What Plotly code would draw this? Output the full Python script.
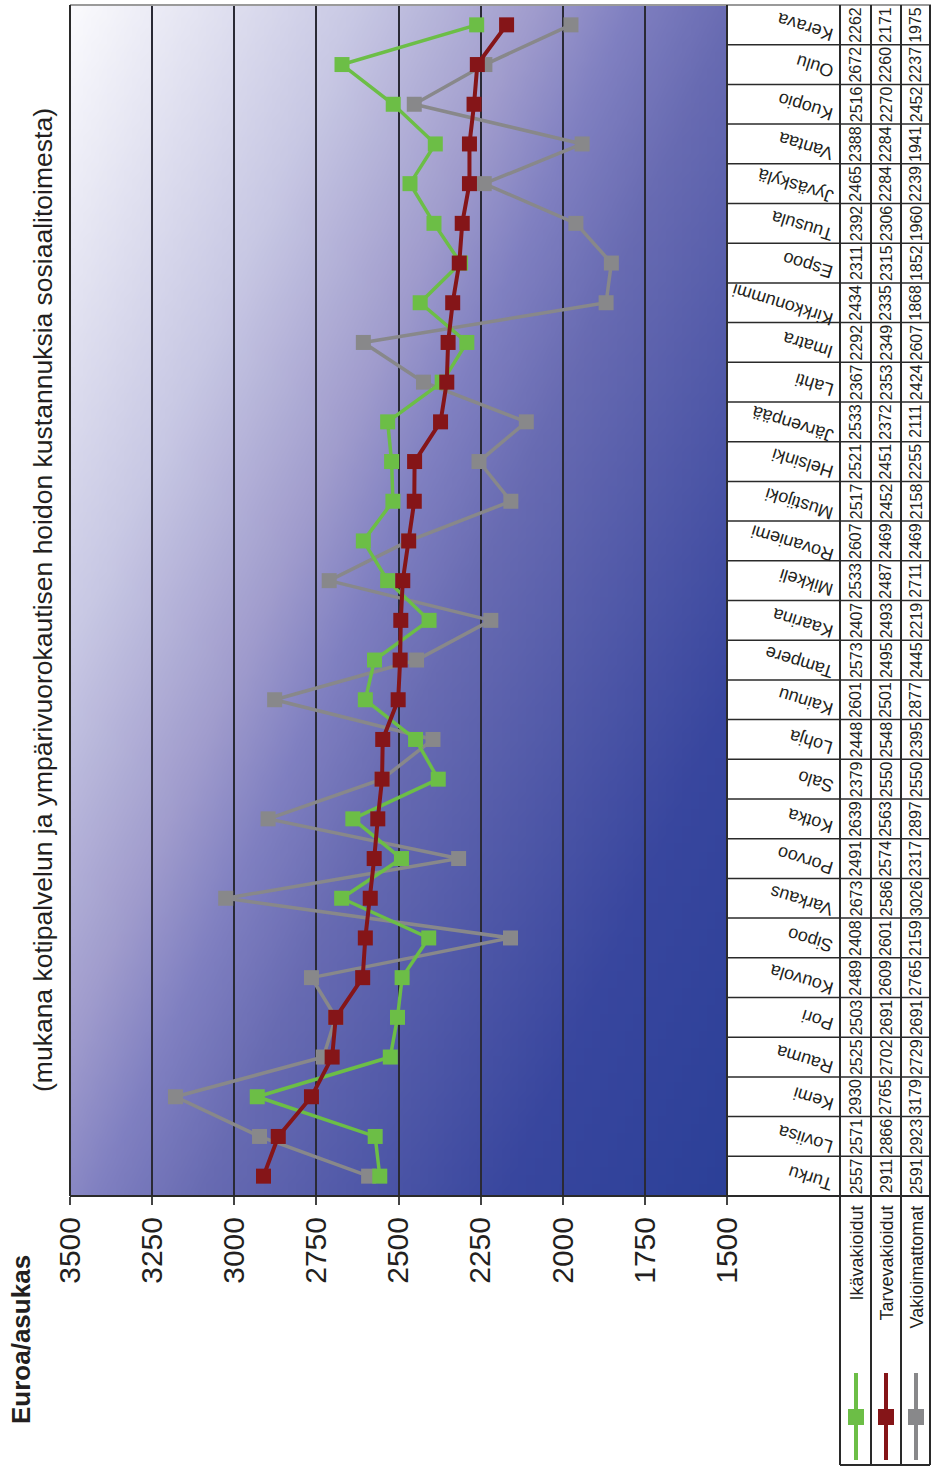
import base64
import struct
import zlib

import plotly.graph_objects as go

# ==== Data ====
categories = [
    "Turku", "Loviisa", "Kemi", "Rauma", "Pori", "Kouvola", "Sipoo", "Varkaus",
    "Porvoo", "Kotka", "Salo", "Lohja", "Kainuu", "Tampere", "Kaarina", "Mikkeli",
    "Rovaniemi", "Mustijoki", "Helsinki", "Järvenpää", "Lahti", "Imatra",
    "Kirkkonummi", "Espoo", "Tuusula", "Jyväskylä", "Vantaa", "Kuopio", "Oulu", "Kerava",
]
ikavakioidut = [2557, 2571, 2930, 2525, 2503, 2489, 2408, 2673, 2491, 2639, 2379, 2448, 2601, 2573, 2407,
                2533, 2607, 2517, 2521, 2533, 2367, 2292, 2434, 2311, 2392, 2465, 2388, 2516, 2672, 2262]
tarvevakioidut = [2911, 2866, 2765, 2702, 2691, 2609, 2601, 2586, 2574, 2563, 2550, 2548, 2501, 2495, 2493,
                  2487, 2469, 2452, 2451, 2372, 2353, 2349, 2335, 2315, 2306, 2284, 2284, 2270, 2260, 2171]
vakioimattomat = [2591, 2923, 3179, 2729, 2691, 2765, 2159, 3026, 2317, 2897, 2550, 2395, 2877, 2445, 2219,
                  2711, 2469, 2158, 2255, 2111, 2424, 2607, 1868, 1852, 1960, 2239, 1941, 2452, 2237, 1975]
series_names = ["Ikävakioidut", "Tarvevakioidut", "Vakioimattomat"]
value_ticks = [3500, 3250, 3000, 2750, 2500, 2250, 2000, 1750, 1500]

title_text = "Euroa/asukas"
subtitle_text = "(mukana kotipalvelun ja ympärivuorokautisen hoidon kustannuksia sosiaalitoimesta)"

# ==== Styles ====
FONT = "Liberation Sans, Arial, sans-serif"
TXT = "#231f20"
colors = ["#6cbe46", "#851518", "#88888a"]
widths = [3.5, 4, 3.5]

W, H = 931, 1466
L, R, T, B = 70, 727, 5, 1196  # plot area in pixels


def px(xp):
    return (xp - L) / (R - L)


def py(yp):
    return (B - yp) / (B - T)


# background gradient (light lavender top-left -> deep blue bottom-right)
def gradient_uri(w=80, h=140):
    stops = [(0.0, (250, 250, 253)), (0.24, (200, 200, 228)), (0.39, (160, 156, 205)),
             (0.47, (128, 128, 193)), (0.56, (104, 107, 178)), (0.82, (56, 70, 158)),
             (1.0, (44, 64, 152))]

    def col(t):
        for (t0, c0), (t1, c1) in zip(stops, stops[1:]):
            if t <= t1:
                f = (t - t0) / (t1 - t0)
                return bytes(round(a + (b - a) * f) for a, b in zip(c0, c1))
        return bytes(stops[-1][1])

    raw = b""
    for j in range(h):
        raw += b"\x00" + b"".join(col(0.55 * i / (w - 1) + 0.45 * j / (h - 1)) for i in range(w))

    def chunk(tag, data):
        return struct.pack(">I", len(data)) + tag + data + struct.pack(">I", zlib.crc32(tag + data) & 0xffffffff)

    png = (b"\x89PNG\r\n\x1a\n"
           + chunk(b"IHDR", struct.pack(">IIBBBBB", w, h, 8, 2, 0, 0, 0))
           + chunk(b"IDAT", zlib.compress(raw))
           + chunk(b"IEND", b""))
    return "data:image/png;base64," + base64.b64encode(png).decode()


fig = go.Figure()

# draw order: gray, green, red (red on top)
all_series = [ikavakioidut, tarvevakioidut, vakioimattomat]
for idx in [2, 0, 1]:
    fig.add_trace(go.Scatter(
        x=all_series[idx], y=categories, mode="lines+markers", name=series_names[idx],
        line=dict(color=colors[idx], width=widths[idx]),
        marker=dict(symbol="square", size=15, color=colors[idx]),
        showlegend=False, cliponaxis=False,
    ))

shapes = []
line_dark = dict(color="#2a2a2a", width=2)
# frame
shapes.append(dict(type="line", xref="paper", yref="paper", x0=0, x1=px(931), y0=1, y1=1,
                   line=dict(color="#9a9a9a", width=2)))
shapes.append(dict(type="line", xref="paper", yref="paper", x0=0, x1=px(931), y0=0, y1=0, line=line_dark))
for xp in [L, R]:
    shapes.append(dict(type="line", xref="paper", yref="paper", x0=px(xp), x1=px(xp), y0=0, y1=1,
                       line=line_dark))
# table columns
for xp in [840, 871, 901, 930]:
    shapes.append(dict(type="line", xref="paper", yref="paper", x0=px(xp), x1=px(xp), y0=py(1465), y1=1,
                       line=line_dark))
shapes.append(dict(type="line", xref="paper", yref="paper", x0=px(840), x1=px(930), y0=py(1465), y1=py(1465),
                   line=line_dark))
# table rows
for k in range(1, len(categories)):
    shapes.append(dict(type="line", xref="paper", yref="y", x0=px(R), x1=px(931), y0=k - 0.5, y1=k - 0.5,
                       line=dict(color="#2a2a2a", width=1.5)))

col_centers = [856, 886, 916]
annotations = []
for s, vals in enumerate(all_series):
    cx = px(col_centers[s])
    for cat, v in zip(categories, vals):
        annotations.append(dict(x=cx, y=cat, xref="paper", yref="y", text=str(v), showarrow=False,
                                xanchor="center", yanchor="middle", textangle=-90,
                                font=dict(family=FONT, size=16, color=TXT)))
    # legend row
    annotations.append(dict(x=cx, y=py(1204), xref="paper", yref="paper", text=series_names[s],
                            showarrow=False, textangle=-90, xanchor="center", yanchor="top",
                            font=dict(family=FONT, size=18, color=TXT)))
    shapes.append(dict(type="line", xref="paper", yref="paper", x0=cx, x1=cx, y0=py(1373), y1=py(1460),
                       line=dict(color=colors[s], width=4)))
    shapes.append(dict(type="rect", xref="paper", yref="paper",
                       x0=px(col_centers[s] - 8), x1=px(col_centers[s] + 8),
                       y0=py(1425), y1=py(1409), fillcolor=colors[s], line=dict(width=0)))

for cat in categories:
    annotations.append(dict(x=px(838), y=cat, xref="paper", yref="y", text=cat, showarrow=False,
                            xanchor="right", yanchor="middle", yshift=-2, textangle=-163,
                            font=dict(family=FONT, size=18, color=TXT)))

annotations.append(dict(x=px(21), y=py(1340), xref="paper", yref="paper", text="<b>" + title_text + "</b>",
                        showarrow=False, textangle=-90, xanchor="center", yanchor="middle",
                        font=dict(family=FONT, size=26, color=TXT)))
annotations.append(dict(x=px(43), y=py(600), xref="paper", yref="paper", text=subtitle_text,
                        showarrow=False, textangle=-90, xanchor="center", yanchor="middle",
                        font=dict(family=FONT, size=26.5, color=TXT)))

fig.update_layout(
    width=W, height=H,
    margin=dict(l=L, r=W - R, t=T, b=H - B, pad=0),
    paper_bgcolor="white",
    plot_bgcolor="rgba(0,0,0,0)",
    font=dict(family=FONT, color=TXT),
    images=[dict(source=gradient_uri(), xref="paper", yref="paper", x=0, y=1, sizex=1, sizey=1,
                 xanchor="left", yanchor="top", sizing="stretch", layer="below")],
    shapes=shapes,
    annotations=annotations,
    xaxis=dict(range=[3500, 1500], tickvals=value_ticks, ticktext=[str(v) for v in value_ticks],
               tickangle=-90, tickfont=dict(family=FONT, size=30, color=TXT),
               ticks="outside", ticklen=8, tickwidth=2, tickcolor="#444",
               showgrid=True, gridcolor="#2a2a35", gridwidth=1.5, zeroline=False, showline=False),
    yaxis=dict(type="category", categoryorder="array", categoryarray=categories,
               range=[-0.5, len(categories) - 0.5], showticklabels=False, showgrid=False,
               zeroline=False, ticks=""),
)

# page body margin off so the figure fills the window exactly
fig.write_html("out.html", config={"displayModeBar": False},
               post_script="document.body.style.margin='0';document.body.style.overflow='hidden';")
